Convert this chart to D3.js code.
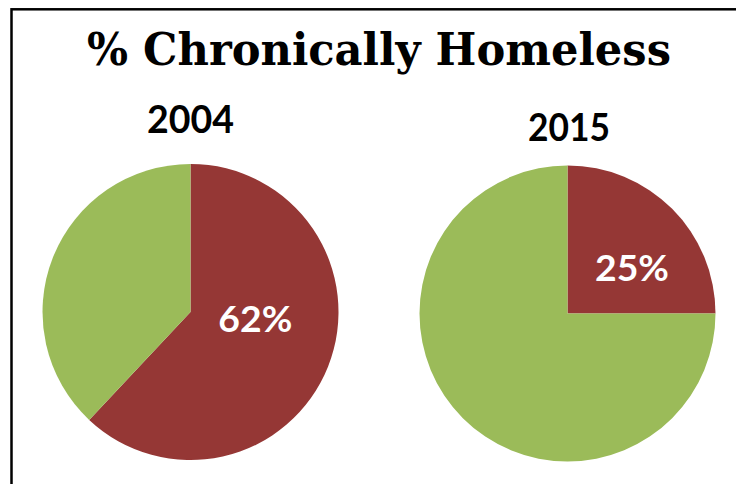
<!DOCTYPE html>
<html>
<head>
<meta charset="utf-8">
<script src="https://cdn.jsdelivr.net/npm/d3@7"></script>
<style>
  html, body { margin: 0; padding: 0; background: #fff; }
  svg { display: block; }
</style>
</head>
<body>
<svg id="chart" width="736" height="484"></svg>
<script>
// ---- data ----
const title = "% Chronically Homeless";
const years = ["2004", "2015"];
const categories = ["Chronically homeless", "Other"];
const chronicValues = [62, 25];
const otherValues = [38, 75];
const sliceLabels = ["62%", "25%"];

// ---- layout / style ----
const W = 736, H = 484;
const colors = d3.scaleOrdinal().domain(categories).range(["#953735", "#9BBB59"]);
const radius = 148;
const centerX = d3.scalePoint().domain(years).range([190.5, 567.5]);
const centerY = { "2004": 312, "2015": 313.5 };
const yearBaseline = { "2004": 133, "2015": 141 };
const yearCenterX = { "2004": 190.5, "2015": 569 };
// label placement: angle (deg clockwise from top) and radius fraction
const labelPlace = { "2004": [95.7, 0.44], "2015": [54.5, 0.535] };

const svg = d3.select("#chart");

// frame (left + top edges visible)
svg.append("rect")
  .attr("x", 11.5).attr("y", 9.3)
  .attr("width", W + 20).attr("height", H + 20)
  .attr("fill", "none").attr("stroke", "#000").attr("stroke-width", 2.5);

svg.append("text")
  .attr("x", 379).attr("y", 65)
  .attr("text-anchor", "middle")
  .attr("font-family", "'DejaVu Serif', 'Liberation Serif', serif")
  .attr("font-weight", "bold")
  .attr("font-size", 45)
  .attr("textLength", 584)
  .attr("lengthAdjust", "spacingAndGlyphs")
  .attr("fill", "#000")
  .text(title);

const pie = d3.pie().sort(null).value(d => d.value);
const arc = d3.arc().innerRadius(0).outerRadius(radius);

years.forEach((yr, i) => {
  const data = [
    { cat: categories[0], value: chronicValues[i] },
    { cat: categories[1], value: otherValues[i] }
  ];
  const g = svg.append("g")
    .attr("transform", `translate(${centerX(yr)},${centerY[yr]})`);

  g.selectAll("path")
    .data(pie(data))
    .join("path")
    .attr("d", arc)
    .attr("fill", d => colors(d.data.cat));

  // slice label
  const [angDeg, rf] = labelPlace[yr];
  const a = angDeg * Math.PI / 180;
  const lx = Math.sin(a) * radius * rf;
  const ly = -Math.cos(a) * radius * rf;
  g.append("text")
    .attr("x", lx).attr("y", ly)
    .attr("dy", "0.36em")
    .attr("text-anchor", "middle")
    .attr("font-family", "Lato, 'Liberation Sans', sans-serif")
    .attr("font-weight", "bold")
    .attr("font-size", 37)
    .attr("textLength", 74)
    .attr("lengthAdjust", "spacingAndGlyphs")
    .attr("fill", "#fff")
    .text(sliceLabels[i]);

  // year title
  svg.append("text")
    .attr("x", yearCenterX[yr]).attr("y", yearBaseline[yr])
    .attr("text-anchor", "middle")
    .attr("font-family", "Lato, 'Liberation Sans', sans-serif")
    .attr("font-weight", "bold")
    .attr("font-size", 39)
    .attr("textLength", yr === "2004" ? 87 : 82)
    .attr("lengthAdjust", "spacingAndGlyphs")
    .attr("fill", "#000")
    .text(yr);
});
</script>
</body>
</html>
